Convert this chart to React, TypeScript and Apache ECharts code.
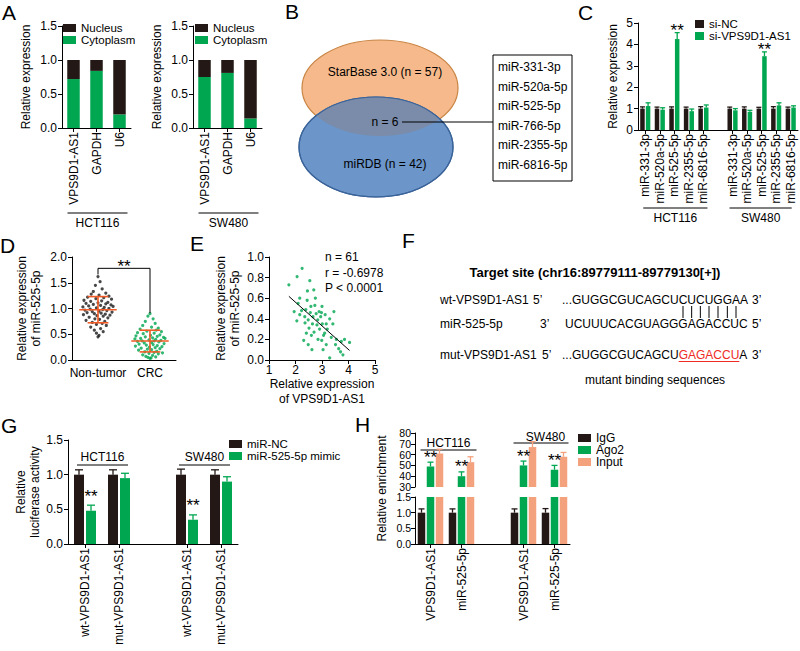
import React, { useEffect, useRef } from 'react';
import * as echarts from 'echarts';

const FONT = '"Liberation Sans", Arial, Helvetica, sans-serif';
const INK = '#000000';
const BLACK = '#231815';
const GREEN = '#00A650';
const SALMON = '#F4A27E';
const ORANGE = '#F15A24';
const RED = '#EE2B24';

// ---------------- data ----------------
const cellLines = ['HCT116', 'SW480'];

// A
const aCategories = ['VPS9D1-AS1', 'GAPDH', 'U6'];
const aHctCytoplasm = [0.72, 0.84, 0.2];
const aHctNucleus = [0.28, 0.16, 0.8];
const aSwCytoplasm = [0.75, 0.81, 0.14];
const aSwNucleus = [0.25, 0.19, 0.86];

// B
const vennStarBase = 'StarBase 3.0 (n = 57)';
const vennMiRDB = 'miRDB (n = 42)';
const vennShared = 'n = 6';
const sharedMiRNAs = ['miR-331-3p', 'miR-520a-5p', 'miR-525-5p', 'miR-766-5p', 'miR-2355-5p', 'miR-6816-5p'];

// C
const cCategories = ['miR-331-3p', 'miR-520a-5p', 'miR-525-5p', 'miR-2355-5p', 'miR-6816-5p'];
const cHctNC = [1.0, 1.0, 1.0, 1.0, 1.0];
const cHctNCErr = [0.08, 0.07, 0.08, 0.07, 0.09];
const cHctSi = [1.12, 0.95, 4.25, 0.88, 1.05];
const cHctSiErr = [0.15, 0.09, 0.3, 0.1, 0.12];
const cSwNC = [1.0, 1.0, 1.0, 1.0, 1.0];
const cSwNCErr = [0.07, 0.08, 0.06, 0.09, 0.07];
const cSwSi = [0.92, 0.85, 3.45, 1.15, 1.05];
const cSwSiErr = [0.08, 0.07, 0.2, 0.12, 0.08];
const cSig = ['', '', '**', '', ''];

// D
const dGroups = ['Non-tumor', 'CRC'];
const dNonTumor = [1.62, 1.52, 1.45, 1.38, 1.33, 1.3, 1.28, 1.26, 1.24, 1.22, 1.21, 1.19, 1.18, 1.16, 1.15, 1.14, 1.12, 1.11, 1.1, 1.09, 1.08, 1.07, 1.06, 1.05, 1.04, 1.03, 1.02, 1.01, 1.0, 0.99, 0.98, 0.97, 0.96, 0.95, 0.94, 0.93, 0.92, 0.91, 0.9, 0.89, 0.88, 0.87, 0.86, 0.85, 0.83, 0.82, 0.8, 0.79, 0.77, 0.75, 0.73, 0.71, 0.69, 0.67, 0.64, 0.61, 0.58, 0.55, 0.52, 0.48, 0.45];
const dNonTumorJitter = [0.0, 0.04, -0.05, 0.08, -0.09, 0.15, -0.13, 0.02, 0.21, -0.2, 0.11, -0.04, 0.26, -0.27, 0.07, -0.14, 0.19, 0.0, -0.23, 0.15, -0.09, 0.25, 0.05, -0.18, 0.29, -0.29, 0.12, -0.03, 0.21, -0.15, 0.09, -0.25, 0.17, 0.02, -0.11, 0.27, -0.21, 0.06, -0.07, 0.14, -0.28, 0.23, -0.02, 0.1, -0.17, 0.19, -0.06, 0.03, -0.23, 0.13, -0.11, 0.08, -0.03, 0.16, -0.14, 0.05, -0.07, 0.1, -0.03, 0.02, 0.0];
const dCRC = [0.9, 0.85, 0.8, 0.75, 0.71, 0.67, 0.64, 0.62, 0.6, 0.58, 0.56, 0.55, 0.53, 0.52, 0.51, 0.49, 0.48, 0.47, 0.46, 0.45, 0.44, 0.43, 0.42, 0.42, 0.41, 0.4, 0.39, 0.38, 0.37, 0.37, 0.36, 0.35, 0.34, 0.33, 0.32, 0.31, 0.3, 0.29, 0.28, 0.27, 0.26, 0.25, 0.24, 0.23, 0.22, 0.21, 0.2, 0.19, 0.17, 0.16, 0.15, 0.13, 0.12, 0.1, 0.09, 0.07, 0.06, 0.05, 0.04, 0.03, 0.14];
const dCRCJitter = [0.0, -0.04, 0.06, -0.09, 0.1, -0.14, 0.03, 0.16, -0.19, 0.12, -0.06, 0.22, -0.24, 0.08, -0.13, 0.19, 0.01, -0.27, 0.14, -0.09, 0.26, 0.05, -0.18, 0.29, -0.29, 0.11, -0.02, 0.21, -0.15, 0.08, -0.24, 0.17, 0.03, -0.11, 0.27, -0.21, 0.06, -0.07, 0.14, -0.28, 0.23, -0.01, 0.1, -0.17, 0.19, -0.05, 0.03, -0.22, 0.13, -0.1, 0.08, -0.02, 0.16, -0.14, 0.05, -0.08, 0.11, -0.04, 0.02, 0.0, 0.24];
const dBracket = { top: 1.78, leftEnd: 1.66, rightEnd: 0.91, sig: '**' };

// E
const ePoints = [
  [1.75, 0.73], [2.25, 0.89], [2.06, 0.81], [2.54, 0.77], [2.69, 0.68], [2.16, 0.6], [2.44, 0.58], [2.75, 0.6], [2.23, 0.48], [2.39, 0.49],
  [2.56, 0.46], [2.1, 0.55], [2.73, 0.53], [2.98, 0.46], [3.45, 0.47], [2.66, 0.42], [2.48, 0.39], [2.36, 0.36], [2.84, 0.39], [3.01, 0.35],
  [3.16, 0.35], [3.41, 0.35], [2.64, 0.35], [2.51, 0.31], [2.41, 0.26], [2.7, 0.27], [2.91, 0.3], [3.1, 0.26], [2.85, 0.2], [2.99, 0.19],
  [3.06, 0.24], [2.31, 0.19], [2.48, 0.15], [3.16, 0.15], [3.54, 0.2], [3.73, 0.18], [3.85, 0.2], [4.04, 0.17], [3.51, 0.15], [3.63, 0.11],
  [3.04, 0.1], [3.29, 0.02], [3.79, 0.05], [2.16, 0.44], [1.95, 0.47], [2.89, 0.47], [3.29, 0.4], [2.6, 0.24], [2.81, 0.34], [2.35, 0.42],
  [2.95, 0.42], [3.2, 0.3], [2.05, 0.38], [2.78, 0.45], [3.35, 0.22], [2.58, 0.52], [3.12, 0.44], [2.45, 0.67], [3.0, 0.52], [2.62, 0.1],
  [3.7, 0.08],
];
const eStats = ['n = 61', 'r = -0.6978', 'P < 0.0001'];

// F
const fTitle = 'Target site (chr16:89779111-89779130[+])';
const fNames = ['wt-VPS9D1-AS1', 'miR-525-5p', 'mut-VPS9D1-AS1'];
const fLeftEnds = ['5’', '3’', '5’'];
const fRightEnds = ['3’', '5’', '3’'];
const wtSeq = 'GUGGCGUCAGCUCUCUGGAA';
const mirSeq = 'UCUUUCACGUAGGGAGACCUC';
const mutPrefix = 'GUGGCGUCAGCU';
const mutSite = 'GAGACCU';
const mutSuffix = 'A';
const pairedFrom = 13; // 1-based positions in wtSeq paired with the miRNA seed
const pairedTo = 19;
const fNote = 'mutant binding sequences';

// G
const gCategories = ['wt-VPS9D1-AS1', 'mut-VPS9D1-AS1'];
const gHctNC = [1.0, 1.0];
const gHctNCErr = [0.07, 0.07];
const gHctMimic = [0.48, 0.95];
const gHctMimicErr = [0.08, 0.07];
const gSwNC = [1.0, 1.0];
const gSwNCErr = [0.08, 0.07];
const gSwMimic = [0.35, 0.9];
const gSwMimicErr = [0.07, 0.07];
const gSig = ['**', ''];

// H
const hCategories = ['VPS9D1-AS1', 'miR-525-5p'];
const hHctIgG = [1.0, 1.0];
const hHctIgGErr = [0.12, 0.12];
const hHctAgo2 = [49, 40];
const hHctAgo2Err = [4, 4];
const hHctInput = [61, 53];
const hHctInputErr = [4, 5];
const hSwIgG = [1.0, 1.0];
const hSwIgGErr = [0.12, 0.13];
const hSwAgo2 = [50, 46];
const hSwAgo2Err = [4, 4];
const hSwInput = [67, 58];
const hSwInputErr = [5, 4];
const hSig = ['**', '**'];

// ---------------- layout ----------------
const L = {
  a1: { left: 62, top: 26, width: 69, height: 102 },
  a2: { left: 193, top: 26, width: 69, height: 102 },
  c: { left: 638, top: 23, width: 160, height: 107 },
  d: { left: 72, top: 257, width: 104, height: 103 },
  e: { left: 269, top: 257, width: 106, height: 103 },
  g: { left: 68, top: 440, width: 170, height: 104 },
  hU: { left: 415, top: 433, width: 155, height: 54 },
  hL: { left: 415, top: 497, width: 155, height: 47 },
};
const vennOrange = { cx: 380, cy: 88, rx: 78, ry: 48 };
const vennBlue = { cx: 376, cy: 147, rx: 77, ry: 50 };

const ts = (size = 12, extra: any = {}) => ({ color: INK, fontFamily: FONT, fontSize: size, ...extra });

const withGap = (cats: string[]) => [
  ...cats.map((c) => `${cellLines[0]}|${c}`),
  'gap',
  ...cats.map((c) => `${cellLines[1]}|${c}`),
];
const gapVals = (a: any[], b: any[]) => [...a, null, ...b];

const center = (g: any, n: number, i: number) => g.left + ((i + 0.5) * g.width) / n;

function barOffsets(n: number, w: number, gap: number) {
  const total = n * w + (n - 1) * gap * w;
  return Array.from({ length: n }, (_, j) => -total / 2 + w / 2 + j * (w + gap * w));
}

function catAxis(gridIndex: number, data: string[], extra: any = {}) {
  return {
    type: 'category',
    gridIndex,
    data,
    boundaryGap: true,
    axisLine: { show: true, onZero: false, lineStyle: { color: INK, width: 1 } },
    axisTick: {
      show: true,
      alignWithLabel: true,
      length: 4,
      interval: (_i: number, v: string) => v !== 'gap',
      lineStyle: { color: INK, width: 1 },
    },
    axisLabel: {
      ...ts(12),
      interval: 0,
      rotate: 90,
      margin: 4,
      formatter: (v: string) => (v === 'gap' ? '' : String(v).split('|').pop()),
    },
    splitLine: { show: false },
    ...extra,
  };
}

function valAxis(gridIndex: number, min: number, max: number, interval: number, dec: number, extra: any = {}) {
  return {
    type: 'value',
    gridIndex,
    min,
    max,
    interval,
    axisLine: { show: true, onZero: false, lineStyle: { color: INK, width: 1 } },
    axisTick: { show: true, length: 4, lineStyle: { color: INK, width: 1 } },
    axisLabel: { ...ts(12), margin: 5, hideOverlap: false, formatter: (v: number) => v.toFixed(dec) },
    splitLine: { show: false },
    nameLocation: 'middle',
    nameRotate: 90,
    nameTextStyle: ts(12, { lineHeight: 14 }),
    ...extra,
  };
}

function errorBars(o: any) {
  const data: any[] = [];
  o.values.forEach((v: any, i: number) => {
    if (v != null) data.push([i, v, o.errs[i] ?? 0, i]);
  });
  return {
    type: 'custom',
    xAxisIndex: o.x,
    yAxisIndex: o.y,
    silent: true,
    z: 4,
    clip: false,
    data,
    renderItem: (_p: any, api: any) => {
      const i = api.value(0);
      const v = api.value(1);
      const e = api.value(2);
      const k = api.value(3);
      const b = api.coord([i, v]);
      const t = api.coord([i, v + e]);
      const x = b[0] + o.offset;
      const st = { stroke: o.color, lineWidth: 1.3 };
      const children: any[] = [
        { type: 'line', shape: { x1: x, y1: b[1], x2: x, y2: t[1] }, style: st },
        { type: 'line', shape: { x1: x - o.cap, y1: t[1], x2: x + o.cap, y2: t[1] }, style: st },
      ];
      const s = o.sig ? o.sig[k] : '';
      if (s) {
        children.push({
          type: 'text',
          style: {
            text: s, x, y: t[1] - o.sigGap, fill: INK, fontFamily: FONT, fontSize: 17,
            align: 'center', verticalAlign: 'middle', textAlign: 'center', textVerticalAlign: 'middle',
          },
        });
      }
      return { type: 'group', children };
    },
  };
}

function measure(text: string, size: number, weight = 'normal') {
  const ctx = document.createElement('canvas').getContext('2d') as CanvasRenderingContext2D;
  ctx.font = `${weight} ${size}px "Liberation Sans"`;
  return ctx.measureText(text).width;
}

function ellipseOverlap(a: any, b: any) {
  const inside = (e: any, x: number, y: number) => ((x - e.cx) / e.rx) ** 2 + ((y - e.cy) / e.ry) ** 2 <= 1.0001;
  const pts: number[][] = [];
  const N = 720;
  for (let k = 0; k < N; k++) {
    const t = (k / N) * Math.PI * 2;
    for (const [p, q] of [[a, b], [b, a]]) {
      const x = p.cx + p.rx * Math.cos(t);
      const y = p.cy + p.ry * Math.sin(t);
      if (inside(q, x, y)) pts.push([x, y]);
    }
  }
  const mx = pts.reduce((s, p) => s + p[0], 0) / pts.length;
  const my = pts.reduce((s, p) => s + p[1], 0) / pts.length;
  pts.sort((u, v) => Math.atan2(u[1] - my, u[0] - mx) - Math.atan2(v[1] - my, v[0] - mx));
  return pts;
}

const text = (x: number, y: number, s: string, size = 12, extra: any = {}, elExtra: any = {}) => ({
  type: 'text',
  x,
  y,
  ...elExtra,
  style: {
    text: s, x: 0, y: 0, fill: INK, fontFamily: FONT, fontSize: size,
    align: extra.align || 'left', textAlign: extra.align || 'left',
    verticalAlign: 'middle', textVerticalAlign: 'middle',
    ...extra,
  },
});
const hline = (x1: number, x2: number, y: number, color = INK, w = 1) => ({
  type: 'line', shape: { x1, y1: y, x2, y2: y }, style: { stroke: color, lineWidth: w },
});
const vline = (x: number, y1: number, y2: number, color = INK, w = 1) => ({
  type: 'line', shape: { x1: x, y1, x2: x, y2 }, style: { stroke: color, lineWidth: w },
});

function buildOption() {
  const meanSd = (arr: number[]) => {
    const m = arr.reduce((s, v) => s + v, 0) / arr.length;
    const sd = Math.sqrt(arr.reduce((s, v) => s + (v - m) ** 2, 0) / (arr.length - 1));
    return [m, sd];
  };
  const [ntMean, ntSd] = meanSd(dNonTumor);
  const [crcMean, crcSd] = meanSd(dCRC);

  const n = ePoints.length;
  const mx = ePoints.reduce((s, p) => s + p[0], 0) / n;
  const my = ePoints.reduce((s, p) => s + p[1], 0) / n;
  const slope = ePoints.reduce((s, p) => s + (p[0] - mx) * (p[1] - my), 0) / ePoints.reduce((s, p) => s + (p[0] - mx) ** 2, 0);
  const icpt = my - slope * mx;
  const xMin = Math.min(...ePoints.map((p) => p[0]));
  const xMax = Math.max(...ePoints.map((p) => p[0]));

  const cAxis = withGap(cCategories);
  const gAxis = withGap(gCategories);
  const hAxis = withGap(hCategories);

  const cOff = barOffsets(2, 4.5, 0.25);
  const gOff = barOffsets(2, 10, 0.2);
  const hOff = barOffsets(3, 7.5, 0.2);

  const grid = [L.a1, L.a2, L.c, L.d, L.e, L.g, L.hU, L.hL].map((g) => ({ ...g, containLabel: false, outerBoundsMode: 'none' }));

  const xAxis = [
    catAxis(0, aCategories),
    catAxis(1, aCategories),
    catAxis(2, cAxis),
    catAxis(3, dGroups, { axisTick: { show: false }, axisLabel: { ...ts(12), interval: 0, rotate: 0, margin: 7 } }),
    { type: 'value', gridIndex: 3, min: -0.5, max: 1.5, show: false },
    {
      type: 'value', gridIndex: 4, min: 1, max: 5, interval: 1,
      axisLine: { show: true, onZero: false, lineStyle: { color: INK } },
      axisTick: { show: true, length: 4, lineStyle: { color: INK } },
      axisLabel: { ...ts(12), margin: 4 },
      splitLine: { show: false },
      name: 'Relative expression\nof VPS9D1-AS1', nameLocation: 'middle', nameGap: 15,
      nameTextStyle: ts(12, { lineHeight: 15, verticalAlign: 'top' }),
    },
    catAxis(5, gAxis),
    catAxis(6, hAxis, { show: false }),
    catAxis(7, hAxis),
  ];

  const yAxis = [
    valAxis(0, 0, 1.5, 0.5, 1, { name: 'Relative expression', nameGap: 29 }),
    valAxis(1, 0, 1.5, 0.5, 1, { name: 'Relative expression', nameGap: 29 }),
    valAxis(2, 0, 5, 1, 0, { name: 'Relative expression', nameGap: 18 }),
    valAxis(3, 0, 2, 0.5, 1, { name: 'Relative expression\nof miR-525-5p', nameGap: 29 }),
    valAxis(4, 0, 1, 0.2, 1, { name: 'Relative expression\nof miR-525-5p', nameGap: 27 }),
    valAxis(5, 0, 1.5, 0.5, 1, { name: 'Relative\nluciferase activity', nameGap: 26 }),
    valAxis(6, 30, 80, 10, 0, { axisLabel: { ...ts(10.5), margin: 4, hideOverlap: false, formatter: (v: number) => v.toFixed(0) } }),
    valAxis(7, 0, 1.5, 0.5, 1, { axisLabel: { ...ts(10.5), margin: 4, hideOverlap: false, formatter: (v: number) => v.toFixed(1) } }),
  ];

  const bar = (name: string, x: number, y: number, data: any[], color: string, w: number, gap: string, extra: any = {}) => ({
    type: 'bar', name, xAxisIndex: x, yAxisIndex: y, data, barWidth: w, barGap: gap,
    itemStyle: { color }, silent: true, ...extra,
  });

  const series: any[] = [
    // A
    bar('Cytoplasm', 0, 0, aHctCytoplasm, GREEN, 12.5, '0%', { stack: 'a1' }),
    bar('Nucleus', 0, 0, aHctNucleus, BLACK, 12.5, '0%', { stack: 'a1' }),
    bar('Cytoplasm', 1, 1, aSwCytoplasm, GREEN, 12.5, '0%', { stack: 'a2' }),
    bar('Nucleus', 1, 1, aSwNucleus, BLACK, 12.5, '0%', { stack: 'a2' }),
    // C
    bar('si-NC', 2, 2, gapVals(cHctNC, cSwNC), BLACK, 4.5, '25%'),
    bar('si-VPS9D1-AS1', 2, 2, gapVals(cHctSi, cSwSi), GREEN, 4.5, '25%'),
    errorBars({ x: 2, y: 2, values: gapVals(cHctNC, cSwNC), errs: gapVals(cHctNCErr, cSwNCErr), offset: cOff[0], color: BLACK, cap: 2.5 }),
    errorBars({ x: 2, y: 2, values: gapVals(cHctSi, cSwSi), errs: gapVals(cHctSiErr, cSwSiErr), offset: cOff[1], color: GREEN, cap: 2.5, sig: gapVals(cSig, cSig), sigGap: 2 }),
    // D
    {
      type: 'scatter', xAxisIndex: 4, yAxisIndex: 3, symbolSize: 3.2, silent: true,
      itemStyle: { color: '#1a1a1a' },
      data: dNonTumor.map((v, i) => [0 + (dNonTumorJitter[i] ?? 0), v]),
    },
    {
      type: 'scatter', xAxisIndex: 4, yAxisIndex: 3, symbolSize: 3.2, silent: true,
      itemStyle: { color: GREEN },
      data: dCRC.map((v, i) => [1 + (dCRCJitter[i] ?? 0), v]),
    },
    {
      type: 'custom', xAxisIndex: 4, yAxisIndex: 3, silent: true, z: 5,
      data: [[0, ntMean, ntSd], [1, crcMean, crcSd]],
      renderItem: (_p: any, api: any) => {
        const x = api.value(0);
        const m = api.value(1);
        const s = api.value(2);
        const c = (dx: number, y: number) => api.coord([x + dx, y]);
        const st = { stroke: ORANGE, lineWidth: 1.6 };
        const seg = (a: number[], b: number[]) => ({ type: 'line', shape: { x1: a[0], y1: a[1], x2: b[0], y2: b[1] }, style: st });
        return {
          type: 'group',
          children: [
            seg(c(0, m - s), c(0, m + s)),
            seg(c(-0.36, m), c(0.36, m)),
            seg(c(-0.2, m + s), c(0.2, m + s)),
            seg(c(-0.2, m - s), c(0.2, m - s)),
          ],
        };
      },
    },
    {
      type: 'custom', xAxisIndex: 4, yAxisIndex: 3, silent: true, z: 5,
      data: [[0, 1, dBracket.top, dBracket.leftEnd, dBracket.rightEnd]],
      renderItem: (_p: any, api: any) => {
        const p1 = api.coord([api.value(0), api.value(3)]);
        const p2 = api.coord([api.value(0), api.value(2)]);
        const p3 = api.coord([api.value(1), api.value(2)]);
        const p4 = api.coord([api.value(1), api.value(4)]);
        return {
          type: 'group',
          children: [
            { type: 'polyline', shape: { points: [p1, p2, p3, p4] }, style: { stroke: INK, lineWidth: 1, fill: 'none' } },
            {
              type: 'text',
              style: {
                text: dBracket.sig, x: (p2[0] + p3[0]) / 2, y: p2[1] - 2, fill: INK, fontFamily: FONT, fontSize: 17,
                align: 'center', verticalAlign: 'middle', textAlign: 'center', textVerticalAlign: 'middle',
              },
            },
          ],
        };
      },
    },
    // E
    {
      type: 'scatter', xAxisIndex: 5, yAxisIndex: 4, symbolSize: 3.2, silent: true,
      itemStyle: { color: GREEN }, data: ePoints,
    },
    {
      type: 'line', xAxisIndex: 5, yAxisIndex: 4, symbol: 'none', silent: true,
      lineStyle: { color: INK, width: 1 },
      data: [[xMin, icpt + slope * xMin], [xMax, icpt + slope * xMax]],
    },
    // G
    bar('miR-NC', 6, 5, gapVals(gHctNC, gSwNC), BLACK, 10, '20%'),
    bar('miR-525-5p mimic', 6, 5, gapVals(gHctMimic, gSwMimic), GREEN, 10, '20%'),
    errorBars({ x: 6, y: 5, values: gapVals(gHctNC, gSwNC), errs: gapVals(gHctNCErr, gSwNCErr), offset: gOff[0], color: BLACK, cap: 4 }),
    errorBars({ x: 6, y: 5, values: gapVals(gHctMimic, gSwMimic), errs: gapVals(gHctMimicErr, gSwMimicErr), offset: gOff[1], color: GREEN, cap: 4, sig: gapVals(gSig, gSig), sigGap: 9 }),
    // H upper
    bar('IgG', 7, 6, gapVals([null, null], [null, null]), BLACK, 7.5, '20%'),
    bar('Ago2', 7, 6, gapVals(hHctAgo2, hSwAgo2), GREEN, 7.5, '20%'),
    bar('Input', 7, 6, gapVals(hHctInput, hSwInput), SALMON, 7.5, '20%'),
    errorBars({ x: 7, y: 6, values: gapVals(hHctAgo2, hSwAgo2), errs: gapVals(hHctAgo2Err, hSwAgo2Err), offset: hOff[1], color: GREEN, cap: 3, sig: gapVals(hSig, hSig), sigGap: 5 }),
    errorBars({ x: 7, y: 6, values: gapVals(hHctInput, hSwInput), errs: gapVals(hHctInputErr, hSwInputErr), offset: hOff[2], color: SALMON, cap: 3 }),
    // H lower
    bar('IgG', 8, 7, gapVals(hHctIgG, hSwIgG), BLACK, 7.5, '20%'),
    bar('Ago2', 8, 7, gapVals(hHctAgo2, hSwAgo2), GREEN, 7.5, '20%'),
    bar('Input', 8, 7, gapVals(hHctInput, hSwInput), SALMON, 7.5, '20%'),
    errorBars({ x: 8, y: 7, values: gapVals(hHctIgG, hSwIgG), errs: gapVals(hHctIgGErr, hSwIgGErr), offset: hOff[0], color: BLACK, cap: 3 }),
  ];

  const legendBase = {
    orient: 'vertical', icon: 'rect', itemWidth: 13, itemHeight: 8, itemGap: 0, padding: 0,
    selectedMode: false, textStyle: ts(11.5, { lineHeight: 10.5 }),
  };
  const legend = [
    { ...legendBase, data: ['Nucleus', 'Cytoplasm'], left: 63, top: 22 },
    { ...legendBase, data: ['Nucleus', 'Cytoplasm'], left: 195, top: 22 },
    { ...legendBase, data: ['si-NC', 'si-VPS9D1-AS1'], left: 695, top: 18, itemWidth: 9 },
    { ...legendBase, data: ['miR-NC', 'miR-525-5p mimic'], left: 229, top: 438 },
    { ...legendBase, data: ['IgG', 'Ago2', 'Input'], left: 578, top: 432, textStyle: ts(12, { lineHeight: 11 }) },
  ];

  // ---------- graphics ----------
  const g: any[] = [];
  const letters: [string, number, number][] = [
    ['A', 2, 12], ['B', 285, 11], ['C', 578, 12], ['D', 0, 245],
    ['E', 190, 243], ['F', 402, 240], ['G', 1, 425], ['H', 355, 424],
  ];
  letters.forEach(([s, x, y]) => g.push(text(x, y, s, 21)));

  const under = (x1: number, x2: number, yLine: number, yText: number, s: string) => {
    g.push(hline(x1, x2, yLine));
    g.push(text((x1 + x2) / 2, yText, s, 12, { align: 'center' }));
  };
  under(center(L.a1, 3, 0) - 6, center(L.a1, 3, 2) + 8, 213, 223, cellLines[0]);
  under(center(L.a2, 3, 0) - 6, center(L.a2, 3, 2) + 8, 213, 223, cellLines[1]);
  under(center(L.c, 11, 0) - 2, center(L.c, 11, 4) + 4, 208, 218, cellLines[0]);
  under(center(L.c, 11, 6) - 3, center(L.c, 11, 10) + 1, 208, 218, cellLines[1]);

  const over = (x1: number, x2: number, yLine: number, yText: number, s: string, tx?: number) => {
    g.push(hline(x1, x2, yLine));
    g.push(text(tx ?? (x1 + x2) / 2, yText, s, 12, { align: 'center' }));
  };
  over(center(L.g, 5, 0) - 8, center(L.g, 5, 1) + 9, 465, 457, cellLines[0]);
  over(center(L.g, 5, 3) - 8, center(L.g, 5, 4) + 9, 465, 457, cellLines[1]);
  over(center(L.hU, 5, 0) - 10, center(L.hU, 5, 1) + 15, 450, 443, cellLines[0]);
  over(center(L.hU, 5, 3) - 10, center(L.hU, 5, 4) + 14, 443, 437, cellLines[1], center(L.hU, 5, 3) + 22);

  g.push(text(382, (L.hU.top + L.hL.top + L.hL.height) / 2, 'Relative enrichment', 12, { align: 'center' }, { rotation: Math.PI / 2 }));

  eStats.forEach((s, i) => g.push(text(325, 257 + i * 15.5, s, 12)));

  // Venn
  g.push({ type: 'ellipse', shape: vennOrange, style: { fill: '#F5B98B', stroke: '#C98443', lineWidth: 1.2 } });
  g.push({ type: 'ellipse', shape: vennBlue, style: { fill: '#6C95C9', stroke: '#3A6399', lineWidth: 1.2 } });
  g.push({ type: 'polygon', shape: { points: ellipseOverlap(vennOrange, vennBlue) }, style: { fill: '#7A8CAA' } });
  g.push({ type: 'ellipse', shape: vennBlue, style: { fill: 'none', stroke: '#3A6399', lineWidth: 1.2 } });
  g.push(text(385, 72, vennStarBase, 12, { align: 'center' }));
  g.push(text(385, 122, vennShared, 12, { align: 'center' }));
  g.push(text(385, 164, vennMiRDB, 12, { align: 'center' }));
  g.push(hline(402, 493, 122));
  g.push({ type: 'rect', shape: { x: 493, y: 55, width: 79, height: 126 }, style: { fill: 'none', stroke: INK, lineWidth: 1 } });
  sharedMiRNAs.forEach((s, i) => g.push(text(498, 67 + i * 19.6, s, 12)));

  // F
  g.push(text(595, 272, fTitle, 13, { align: 'center', fontWeight: 'bold' }));
  const rowsY = [300, 324, 355];
  const endX = [533, 540, 542];
  fNames.forEach((s, i) => {
    g.push(text(440, rowsY[i], s, 12));
    g.push(text(endX[i], rowsY[i], fLeftEnds[i], 12));
    g.push(text(752, rowsY[i], fRightEnds[i], 12));
  });
  const seqX = 562;
  g.push(text(seqX, rowsY[0], '...' + wtSeq, 12));
  g.push(text(565, rowsY[1], mirSeq, 12));
  const pre = '...' + mutPrefix;
  const wPre = measure(pre, 12);
  const wSite = measure(mutSite, 12);
  g.push(text(seqX, rowsY[2], pre, 12));
  g.push(text(seqX + wPre, rowsY[2], mutSite, 12, { fill: RED }));
  g.push(text(seqX + wPre + wSite, rowsY[2], mutSuffix, 12));
  g.push(hline(seqX + wPre, seqX + wPre + wSite, rowsY[2] + 6.5, RED, 1));
  for (let k = pairedFrom; k <= pairedTo; k++) {
    const x = seqX + measure('...' + wtSeq.slice(0, k - 1), 12) + measure(wtSeq[k - 1], 12) / 2;
    g.push(vline(x, 306, 318, INK, 1));
  }
  g.push(text(655, 380, fNote, 12, { align: 'center' }));

  return {
    animation: false,
    backgroundColor: '#ffffff',
    textStyle: { fontFamily: FONT },
    grid,
    xAxis,
    yAxis,
    series,
    legend,
    graphic: { elements: g },
  };
}

export default function App() {
  const ref = useRef<HTMLDivElement>(null);
  useEffect(() => {
    if (!ref.current) return;
    const chart = echarts.init(ref.current, null, { renderer: 'svg' });
    chart.setOption(buildOption() as any);
    return () => chart.dispose();
  }, []);
  return (
    <div
      ref={ref}
      style={{ position: 'absolute', left: 0, top: 0, width: 800, height: 651, background: '#ffffff' }}
    />
  );
}
